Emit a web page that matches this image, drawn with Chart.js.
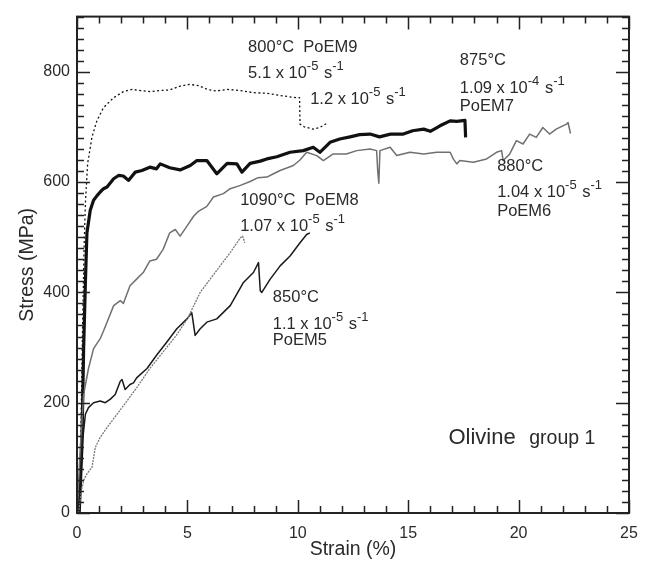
<!DOCTYPE html>
<html>
<head>
<meta charset="utf-8">
<script src="https://cdn.jsdelivr.net/npm/chart.js"></script>
<style>
  body { margin: 0; background: #fff; }
</style>
</head>
<body>
<canvas id="stress-chart" width="649" height="562"></canvas>
<script>
// Olivine group 1 - stress/strain curves
const strainTicks = [0, 5, 10, 15, 20, 25];
const stressTicks = [0, 200, 400, 600, 800];

// PoEM9, 800°C
const poem9Strain = [0.1, 0.18, 0.25, 0.32, 0.38, 0.48, 0.68, 0.9, 1.2, 1.66, 2.1, 2.5, 2.86, 3.3, 3.77, 4.2, 4.67, 5.1, 5.5, 5.9, 6.3, 6.8, 7.4, 8.0, 8.6, 9.35, 9.95, 10.08, 10.1, 10.3, 10.7, 11.0, 11.3];
const poem9Stress = [0, 150, 330, 480, 561, 633, 682, 711, 735, 753, 764, 768, 766, 764, 766, 767, 774, 777, 775, 768, 765, 768, 766, 762, 761, 756, 753, 753, 705, 700, 696, 699, 706];

// PoEM7, 875°C
const poem7Strain = [0.1, 0.15, 0.22, 0.3, 0.38, 0.45, 0.6, 0.75, 0.9, 1.05, 1.2, 1.36, 1.66, 1.88, 2.1, 2.33, 2.64, 2.94, 3.3, 3.6, 3.77, 4.2, 4.67, 5.13, 5.43, 5.88, 6.33, 6.8, 7.24, 7.47, 7.84, 8.3, 8.6, 9.05, 9.65, 10.25, 10.7, 11.0, 11.46, 11.9, 12.37, 12.8, 13.27, 13.7, 14.2, 14.78, 15.2, 15.7, 16.0, 16.44, 16.9, 17.2, 17.57, 17.6];
const poem7Stress = [0, 50, 119, 298, 418, 508, 549, 567, 575, 582, 588, 591, 606, 612, 611, 603, 618, 621, 627, 624, 633, 626, 622, 630, 639, 639, 615, 634, 633, 618, 634, 638, 642, 646, 654, 657, 663, 654, 672, 678, 682, 686, 687, 682, 687, 687, 693, 696, 692, 702, 711, 710, 712, 681];

// PoEM6, 880°C
const poem6Strain = [0, 0.15, 0.3, 0.52, 0.75, 1.05, 1.2, 1.36, 1.66, 1.96, 2.1, 2.4, 2.7, 3.0, 3.3, 3.6, 3.9, 4.2, 4.45, 4.67, 4.98, 5.28, 5.5, 5.88, 6.18, 6.63, 6.94, 7.4, 7.84, 8.2, 8.6, 8.9, 9.2, 9.8, 10.1, 10.4, 10.86, 11.16, 11.6, 12.2, 12.67, 13.27, 13.57, 13.62, 13.67, 13.72, 14.18, 14.48, 15.08, 15.7, 16.3, 16.9, 17.04, 17.2, 17.34, 17.95, 18.55, 19.0, 19.23, 19.3, 19.6, 19.9, 20.2, 20.5, 20.8, 21.1, 21.4, 21.7, 22.17, 22.24, 22.35];
const poem6Stress = [0, 119, 215, 262, 298, 316, 330, 346, 376, 385, 380, 412, 424, 436, 457, 460, 478, 508, 514, 502, 520, 538, 547, 556, 573, 579, 588, 594, 601, 608, 609, 615, 621, 630, 640, 654, 648, 639, 651, 651, 657, 660, 657, 620, 598, 657, 663, 648, 654, 651, 654, 654, 642, 633, 639, 636, 642, 654, 657, 639, 651, 675, 669, 687, 681, 699, 687, 696, 705, 708, 688];

// PoEM8, 1090°C
const poem8Strain = [0.07, 0.2, 0.3, 0.45, 0.68, 0.83, 1.05, 1.36, 1.81, 2.26, 2.7, 3.3, 3.9, 4.5, 5.0, 5.58, 6.03, 6.48, 6.94, 7.4, 7.5, 7.6];
const poem8Stress = [0, 40, 59, 71, 83, 119, 137, 155, 179, 203, 227, 262, 292, 322, 352, 400, 424, 448, 472, 499, 502, 490];

// PoEM5, 850°C
const poem5Strain = [0.07, 0.15, 0.22, 0.38, 0.52, 0.75, 1.05, 1.28, 1.5, 1.73, 1.96, 2.04, 2.18, 2.4, 2.56, 2.7, 3.17, 3.62, 4.07, 4.52, 4.98, 5.2, 5.35, 5.58, 5.88, 6.33, 6.94, 7.54, 7.99, 8.22, 8.3, 8.37, 8.75, 9.2, 9.65, 10.1, 10.4, 10.55];
const poem5Stress = [0, 59, 119, 179, 191, 200, 203, 200, 206, 215, 239, 242, 224, 233, 236, 245, 262, 287, 310, 334, 352, 363, 322, 334, 346, 352, 376, 418, 436, 454, 403, 400, 424, 448, 466, 490, 505, 508];

const FONT = '"Liberation Sans", Arial, sans-serif';
const TEXT_COLOR = '#2a2a2a';

// text labels next to the curves: [strain, stress, parts]; a part is [text, superscript?]
const labels = [
  [7.75, 835, [['800°C  PoEM9']]],
  [7.75, 789, [['5.1 x 10'], ['-5', true], [' s'], ['-1', true]]],
  [10.56, 741, [['1.2 x 10'], ['-5', true], [' s'], ['-1', true]]],
  [17.34, 812, [['875°C']]],
  [17.34, 762, [['1.09 x 10'], ['-4', true], [' s'], ['-1', true]]],
  [17.34, 729, [['PoEM7']]],
  [19.03, 620, [['880°C']]],
  [19.03, 573, [['1.04 x 10'], ['-5', true], [' s'], ['-1', true]]],
  [19.03, 538, [['PoEM6']]],
  [7.39, 558, [['1090°C  PoEM8']]],
  [7.39, 511, [['1.07 x 10'], ['-5', true], [' s'], ['-1', true]]],
  [8.87, 382, [['850°C']]],
  [8.87, 334, [['1.1 x 10'], ['-5', true], [' s'], ['-1', true]]],
  [8.87, 304, [['PoEM5']]]
];

function toPoints(xs, ys) {
  return xs.map((v, i) => ({ x: v, y: ys[i] }));
}

function drawParts(ctx, x, y, parts, size) {
  let cx = x;
  parts.forEach(([t, sup]) => {
    ctx.font = (sup ? Math.round(size * 0.78) : size) + 'px ' + FONT;
    ctx.fillText(t, cx, sup ? y - 8 : y);
    cx += ctx.measureText(t).width + (sup ? 1 : 0);
  });
}

// inward ticks on all four sides, the box, and the curve labels
const frameAndLabels = {
  id: 'frameAndLabels',
  afterDatasetsDraw(chart) {
    const { ctx, chartArea: a, scales: { x, y } } = chart;
    ctx.save();
    ctx.strokeStyle = '#222';
    ctx.lineWidth = 1.5;
    ctx.beginPath();
    for (let v = 0; v <= 25; v++) {
      const px = Math.round(x.getPixelForValue(v)) + 0.5;
      const len = v % 5 === 0 ? 13 : 7;
      ctx.moveTo(px, a.bottom); ctx.lineTo(px, a.bottom - len);
      ctx.moveTo(px, a.top); ctx.lineTo(px, a.top + len);
    }
    for (let v = 0; v <= 900; v += 20) {
      const py = Math.round(y.getPixelForValue(v)) + 0.5;
      const len = (v % 200 === 0 && v < 900) ? 13 : 7;
      ctx.moveTo(a.left, py); ctx.lineTo(a.left + len, py);
      ctx.moveTo(a.right, py); ctx.lineTo(a.right - len, py);
    }
    ctx.stroke();
    ctx.lineWidth = 2;
    ctx.strokeRect(a.left, a.top, a.right - a.left, a.bottom - a.top);

    ctx.fillStyle = TEXT_COLOR;
    ctx.textBaseline = 'alphabetic';
    ctx.textAlign = 'left';
    labels.forEach(([sx, sy, parts]) => {
      drawParts(ctx, x.getPixelForValue(sx), y.getPixelForValue(sy), parts, 16.5);
    });
    ctx.font = '22px ' + FONT;
    ctx.fillText('Olivine', x.getPixelForValue(16.82), y.getPixelForValue(125));
    ctx.font = '19.5px ' + FONT;
    ctx.fillText('group 1', x.getPixelForValue(20.48), y.getPixelForValue(125));
    ctx.restore();
  }
};

const ctx = document.getElementById('stress-chart').getContext('2d');
new Chart(ctx, {
  type: 'scatter',
  data: {
    datasets: [
      { label: 'PoEM6', data: toPoints(poem6Strain, poem6Stress), borderColor: '#707070', borderWidth: 1.5 },
      { label: 'PoEM8', data: toPoints(poem8Strain, poem8Stress), borderColor: '#7a7a7a', borderWidth: 1.3, borderDash: [2, 1] },
      { label: 'PoEM5', data: toPoints(poem5Strain, poem5Stress), borderColor: '#1a1a1a', borderWidth: 1.5 },
      { label: 'PoEM9', data: toPoints(poem9Strain, poem9Stress), borderColor: '#111', borderWidth: 1.3, borderDash: [2, 2.5] },
      { label: 'PoEM7', data: toPoints(poem7Strain, poem7Stress), borderColor: '#111', borderWidth: 3.2 }
    ]
  },
  options: {
    responsive: false,
    devicePixelRatio: 1,
    animation: false,
    showLine: true,
    elements: {
      point: { radius: 0 },
      line: { tension: 0, borderJoinStyle: 'round' }
    },
    layout: { padding: { top: 13, right: 20, left: 0, bottom: 0 } },
    plugins: {
      legend: { display: false },
      tooltip: { enabled: false }
    },
    scales: {
      x: {
        type: 'linear',
        min: 0,
        max: 25,
        afterBuildTicks: (s) => { s.ticks = strainTicks.map(v => ({ value: v })); },
        afterFit: (s) => { s.height = 49; },
        grid: { display: false, drawTicks: false },
        border: { display: false },
        ticks: { padding: 11, color: TEXT_COLOR, font: { family: FONT, size: 16 } },
        title: { display: true, text: 'Strain (%)', color: TEXT_COLOR, font: { family: FONT, size: 19.5 }, padding: { top: 0, bottom: 1 } }
      },
      y: {
        type: 'linear',
        min: 0,
        max: 900,
        afterBuildTicks: (s) => { s.ticks = stressTicks.map(v => ({ value: v })); },
        afterFit: (s) => { s.width = 77; },
        grid: { display: false, drawTicks: false },
        border: { display: false },
        ticks: { padding: 7, color: TEXT_COLOR, font: { family: FONT, size: 16 } },
        title: { display: true, text: 'Stress (MPa)', color: TEXT_COLOR, font: { family: FONT, size: 19.5 }, padding: { top: 16, bottom: 0 } }
      }
    }
  },
  plugins: [frameAndLabels]
});
</script>
</body>
</html>
